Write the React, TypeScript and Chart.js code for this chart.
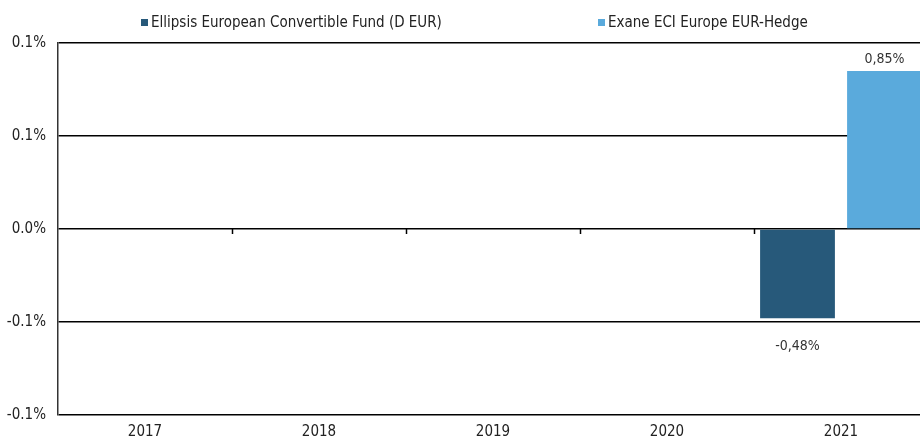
import React, { useEffect, useRef } from "react";
import { Chart, registerables } from "chart.js";

Chart.register(...registerables);

const categories = ["2017", "2018", "2019", "2020", "2021"];
const fundName = "Ellipsis European Convertible Fund (D EUR)";
const benchName = "Exane ECI Europe EUR-Hedge";
const fundValues: (number | null)[] = [null, null, null, null, -0.48];
const benchValues: (number | null)[] = [null, null, null, null, 0.85];
const yTickLabels = ["-0.1%", "-0.1%", "0.0%", "0.1%", "0.1%"];
const fundColor = "#27597a";
const benchColor = "#5aaadc";

const FONT = "'Liberation Sans Narrow', 'DejaVu Sans Condensed', 'Arial Narrow', 'Liberation Sans', sans-serif";

const zeroTicksPlugin = {
  id: "zeroTicks",
  afterDatasetsDraw(chart: any) {
    const x = chart.scales.x;
    const y = chart.scales.y;
    const ctx = chart.ctx;
    const y0 = y.getPixelForValue(0);
    ctx.save();
    ctx.strokeStyle = "#000";
    ctx.lineWidth = 1.5;
    for (let i = 1; i < categories.length; i++) {
      const px = Math.round((x.getPixelForValue(i - 1) + x.getPixelForValue(i)) / 2) + 0.5;
      ctx.beginPath();
      ctx.moveTo(px, y0);
      ctx.lineTo(px, y0 + 5);
      ctx.stroke();
    }
    ctx.restore();
  },
};

const valueLabelsPlugin = {
  id: "valueLabels",
  afterDatasetsDraw(chart: any) {
    const ctx = chart.ctx;
    ctx.save();
    ctx.font = `14px ${FONT}`;
    ctx.fillStyle = "#333";
    ctx.textAlign = "center";
    chart.data.datasets.forEach((ds: any, di: number) => {
      const meta = chart.getDatasetMeta(di);
      meta.data.forEach((el: any, i: number) => {
        const v = ds.data[i];
        if (v === null || v === undefined) return;
        const txt = v.toFixed(2).replace(".", ",") + "%";
        if (v >= 0) {
          ctx.textBaseline = "bottom";
          ctx.fillText(txt, el.x, el.y - 5);
        } else {
          ctx.textBaseline = "top";
          ctx.fillText(txt, el.x, el.y + 21);
        }
      });
    });
    ctx.restore();
  },
};

export default function App() {
  const canvasRef = useRef<HTMLCanvasElement | null>(null);

  useEffect(() => {
    if (!canvasRef.current) return;
    Chart.defaults.font.family = FONT;
    const chart = new Chart(canvasRef.current, {
      type: "bar",
      data: {
        labels: categories,
        datasets: [
          { label: fundName, data: fundValues, backgroundColor: fundColor, categoryPercentage: 1, barPercentage: 0.86 },
          { label: benchName, data: benchValues, backgroundColor: benchColor, categoryPercentage: 1, barPercentage: 0.86 },
        ],
      },
      options: {
        animation: false,
        responsive: true,
        maintainAspectRatio: false,
        layout: { padding: { top: 43, left: 0, right: 0, bottom: 0 } },
        plugins: {
          legend: { display: false },
          tooltip: { enabled: false },
        },
        scales: {
          x: {
            grid: { display: false, drawTicks: false },
            border: { display: false },
            ticks: { color: "#222", font: { size: 15 }, padding: 8, maxRotation: 0 },
            afterFit: (s: any) => {
              s.height = 24;
            },
          },
          y: {
            min: -1,
            max: 1,
            grid: { color: "#000", lineWidth: 1.5, drawTicks: false },
            border: { display: true, color: "#333", width: 1.5 },
            ticks: {
              stepSize: 0.5,
              color: "#222",
              font: { size: 15 },
              padding: 12,
              callback: (_v: any, i: number) => yTickLabels[i],
            },
            afterFit: (s: any) => {
              s.width = 58;
            },
          },
        },
      },
      plugins: [zeroTicksPlugin, valueLabelsPlugin],
    });
    return () => chart.destroy();
  }, []);

  const legendText: React.CSSProperties = {
    position: "absolute",
    top: 13,
    fontFamily: FONT,
    fontSize: 15,
    color: "#222",
    whiteSpace: "nowrap",
    lineHeight: "18px",
  };
  const sq = (left: number, color: string): React.CSSProperties => ({
    position: "absolute",
    left,
    top: 19,
    width: 7,
    height: 7,
    background: color,
  });

  return (
    <div style={{ position: "fixed", left: 0, top: 0, width: 920, height: 439, overflow: "hidden", background: "#fff" }}>
      <div style={{ position: "relative", width: 928, height: 439 }}>
        <canvas ref={canvasRef} />
        <div style={sq(141, fundColor)} />
        <span style={{ ...legendText, left: 151 }}>{fundName}</span>
        <div style={sq(598, benchColor)} />
        <span style={{ ...legendText, left: 608 }}>{benchName}</span>
      </div>
    </div>
  );
}
